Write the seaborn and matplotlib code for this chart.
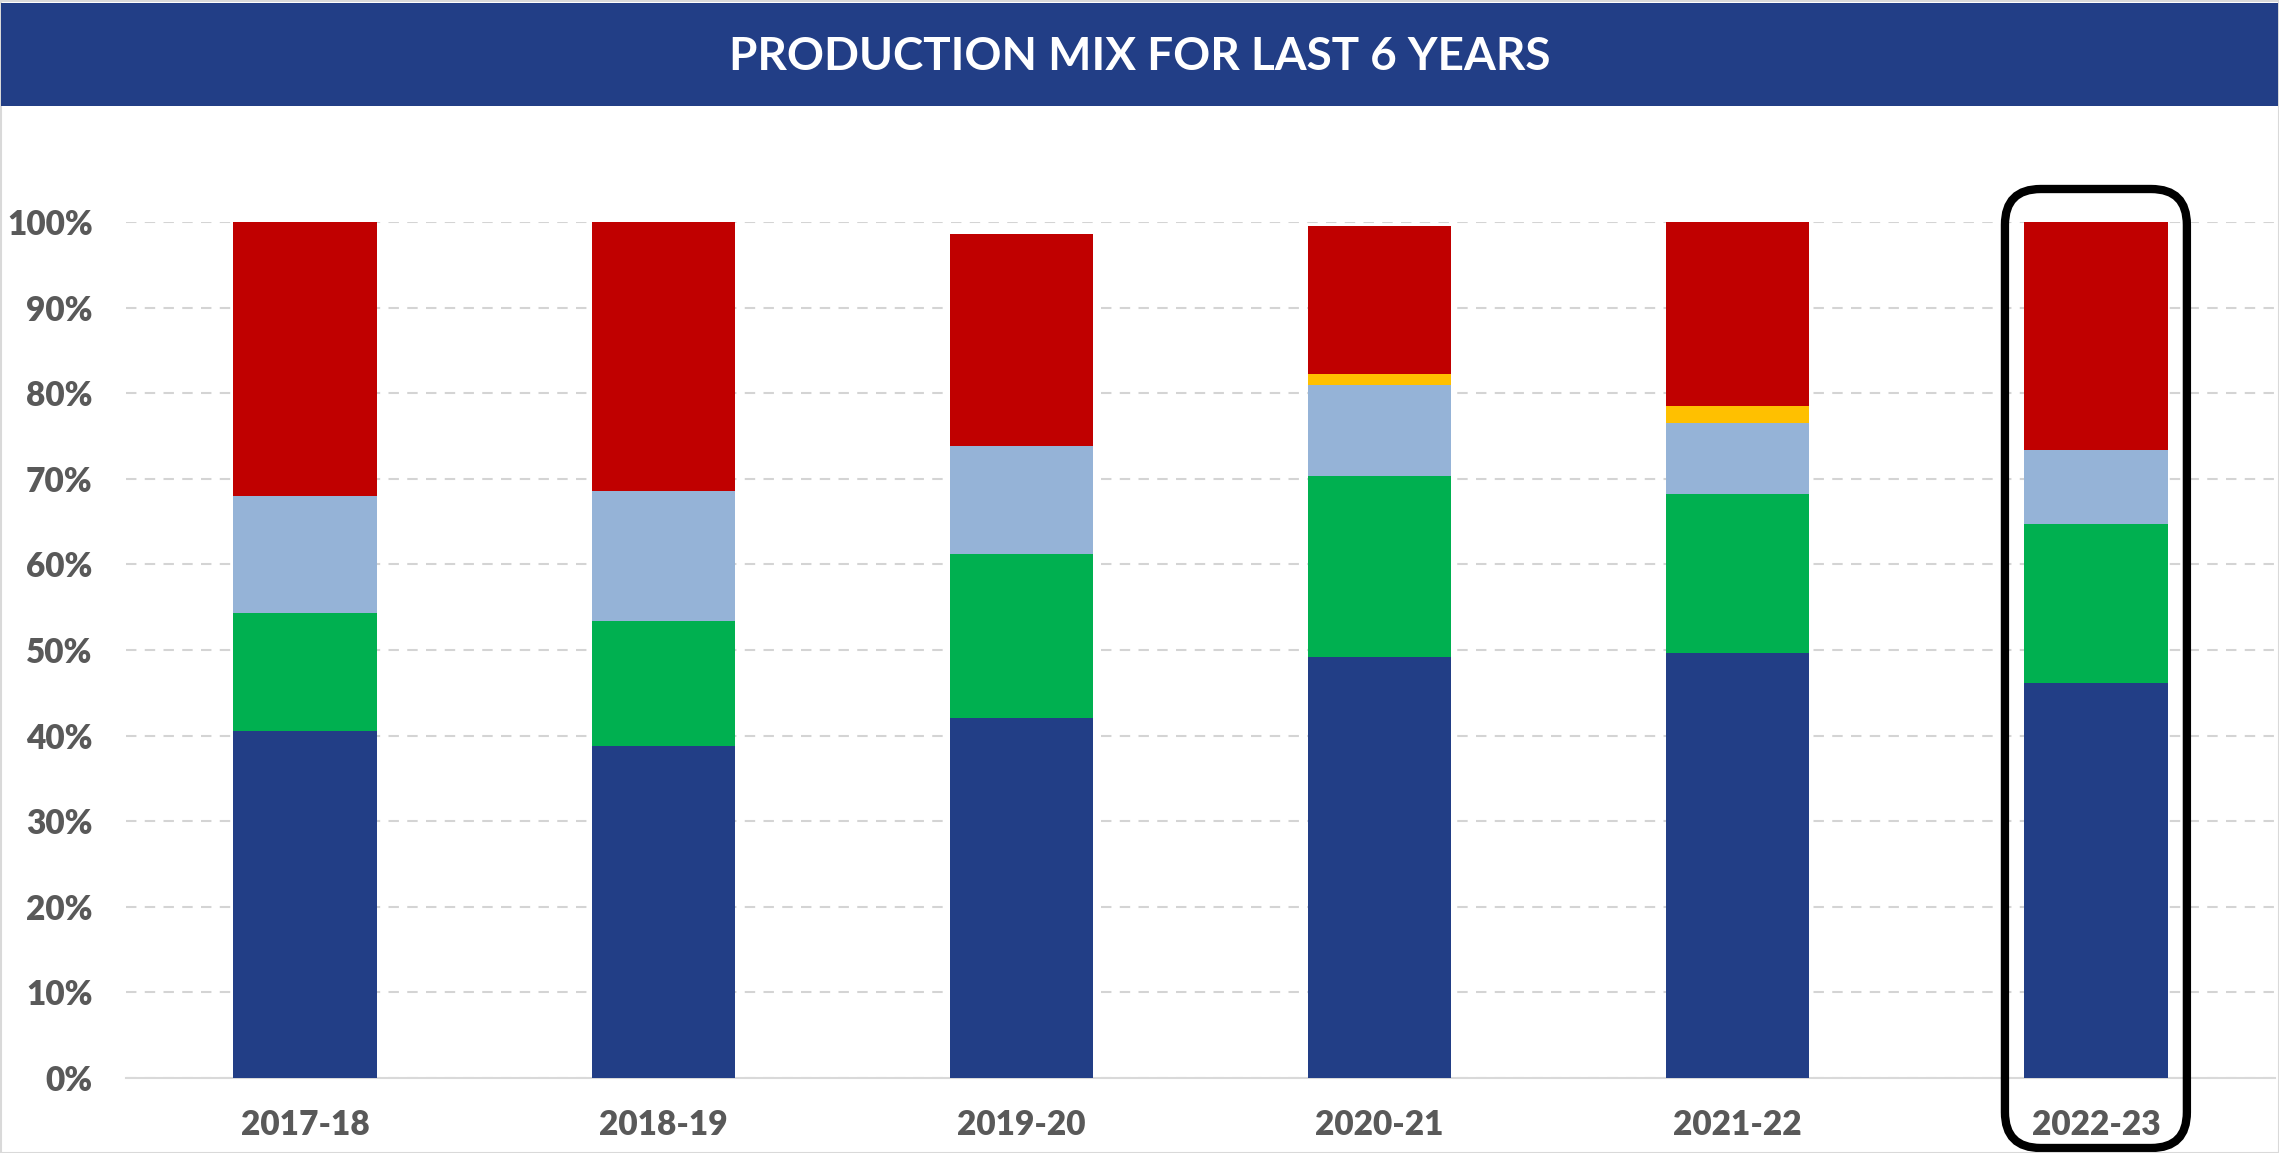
import matplotlib
matplotlib.use("Agg")
import matplotlib.pyplot as plt
from matplotlib.patches import Rectangle, FancyBboxPatch
from matplotlib.ticker import PercentFormatter, MultipleLocator
import seaborn as sns
import pandas as pd
import numpy as np

# ---- data (shares of production, %) ----
years = ["2017-18", "2018-19", "2019-20", "2020-21", "2021-22", "2022-23"]
series_names = ["Series 1", "Series 2", "Series 3", "Series 4", "Series 5"]
s1 = [40.5, 38.8, 42.1, 49.2, 49.7, 46.2]   # navy
s2 = [13.8, 14.6, 19.1, 21.1, 18.5, 18.5]   # green
s3 = [13.7, 15.2, 12.6, 10.6, 8.3, 8.7]     # light blue
s4 = [0.0, 0.0, 0.0, 1.4, 2.0, 0.0]         # yellow
s5 = [32.0, 31.4, 24.8, 17.2, 21.5, 26.6]   # red
colors = ["#223E86", "#00B050", "#95B3D7", "#FFC000", "#C00000"]
title = "PRODUCTION MIX FOR LAST 6 YEARS"
highlight = "2022-23"

sns.set_theme(style="white")
plt.rcParams["font.family"] = ["Lato", "DejaVu Sans"]

W, H = 2279, 1153
fig = plt.figure(figsize=(W / 100, H / 100), dpi=100)
ax = fig.add_axes([126 / W, 75 / H, (2275 - 126) / W, (1078 - 222) / H])

df = pd.DataFrame({"year": years, "s1": s1, "s2": s2, "s3": s3, "s4": s4, "s5": s5})
cols = ["s1", "s2", "s3", "s4", "s5"]
cum = df[cols].cumsum(axis=1) / 100.0
cum["year"] = years

# draw cumulative totals from top layer down so each segment shows
for col, c in reversed(list(zip(cols, colors))):
    sns.barplot(data=cum, x="year", y=col, order=years, color=c, width=0.4,
                errorbar=None, saturation=1, edgecolor="none", ax=ax, zorder=3)

ax.set_ylim(0, 1.0)
ax.set_xlim(-0.5, len(years) - 0.5)
ax.yaxis.set_major_locator(MultipleLocator(0.1))
ax.yaxis.set_major_formatter(PercentFormatter(1.0, decimals=0))
ax.set_xlabel("")
ax.set_ylabel("")
ax.grid(axis="y", color="#D4D4D4", linestyle=(0, (5, 4)), linewidth=1.5, zorder=0)
ax.grid(axis="x", visible=False)
for side in ["top", "right", "left"]:
    ax.spines[side].set_visible(False)
ax.spines["bottom"].set_color("#D9D9D9")
ax.spines["bottom"].set_linewidth(1.5)
ax.tick_params(axis="both", length=0)
ax.tick_params(axis="x", pad=22)
ax.tick_params(axis="y", pad=24)
for lab in ax.get_xticklabels() + ax.get_yticklabels():
    lab.set_fontsize(24)
    lab.set_fontweight("heavy")
    lab.set_color("#595959")

# rounded highlight box around the last year
hi = years.index(highlight)
xu = (2275 - 126) / len(years)          # pixels per category
yu = (1078 - 222)                      # pixels per 1.0
half_w = 0.254
y_top = 1.0 + 33 / yu
y_bot = -70 / yu
r = 0.1
box = FancyBboxPatch((hi - half_w, y_bot), 2 * half_w, y_top - y_bot,
                     boxstyle=f"round,pad=0,rounding_size={r}",
                     mutation_aspect=xu / yu, transform=ax.transData,
                     fill=False, edgecolor="black", linewidth=6, clip_on=False, zorder=5)
ax.add_patch(box)

# title band
fig.patches.append(Rectangle((1 / W, 1 - 106 / H), (W - 2) / W, 103 / H,
                             transform=fig.transFigure, facecolor="#223E86",
                             edgecolor="none", zorder=1))
fig.text(0.5, 1 - 57 / H, title, ha="center", va="center", color="white",
         fontsize=33, fontweight="bold", zorder=2)

# outer border
fig.patches.append(Rectangle((0.5 / W, 0.5 / H), 1 - 1 / W, 1 - 1 / H,
                             transform=fig.transFigure, facecolor="none",
                             edgecolor="#D9D9D9", linewidth=1.5, zorder=0))

fig.savefig("out.png", dpi=100, facecolor="white")
